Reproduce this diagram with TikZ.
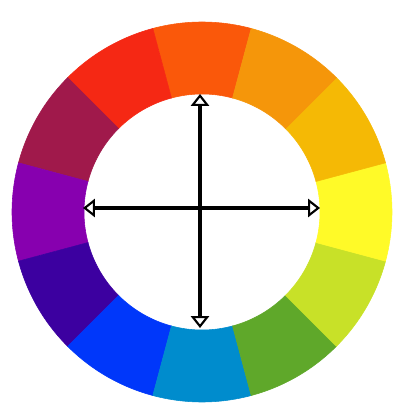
\documentclass[tikz,border=0pt]{standalone}
\usetikzlibrary{arrows.meta}
\definecolor{hueA}{RGB}{250,88,10}
\definecolor{hueB}{RGB}{245,40,20}
\definecolor{hueC}{RGB}{160,25,75}
\definecolor{hueD}{RGB}{135,0,175}
\definecolor{hueE}{RGB}{60,0,160}
\definecolor{hueF}{RGB}{0,55,250}
\definecolor{hueG}{RGB}{0,140,205}
\definecolor{hueH}{RGB}{95,168,42}
\definecolor{hueI}{RGB}{200,225,40}
\definecolor{hueJ}{RGB}{255,250,40}
\definecolor{hueK}{RGB}{245,185,5}
\definecolor{hueL}{RGB}{245,150,10}
\begin{document}
\begin{tikzpicture}[x=0.025cm,y=0.025cm,
  		segment/.style={line width=0.4pt},
  		crossarrow/.style={line width=2.4pt,
  		  {Triangle[open,length=8.5pt,width=13pt,line width=1.5pt]}-{Triangle[open,length=8.5pt,width=13pt,line width=1.5pt]}}]
  		\useasboundingbox (-202,-207) rectangle (209,212);
  		% colour wheel
  		\foreach \a/\c in {90/hueA,120/hueB,150/hueC,180/hueD,210/hueE,240/hueF,
  			270/hueG,300/hueH,330/hueI,0/hueJ,30/hueK,60/hueL}
  			\filldraw[segment,fill=\c,draw=\c] (\a-15:190) arc (\a-15:\a+15:190)
  				-- (\a+15:118) arc (\a+15:\a-15:118) -- cycle;
  		% cross
  		\coordinate (north) at (-2,118);
  		\coordinate (south) at (-2,-116);
  		\coordinate (west) at (-119,4);
  		\coordinate (east) at (118,4);
  		\draw[crossarrow] (south) -- (north);
  		\draw[crossarrow] (west) -- (east);
\end{tikzpicture}
\end{document}
